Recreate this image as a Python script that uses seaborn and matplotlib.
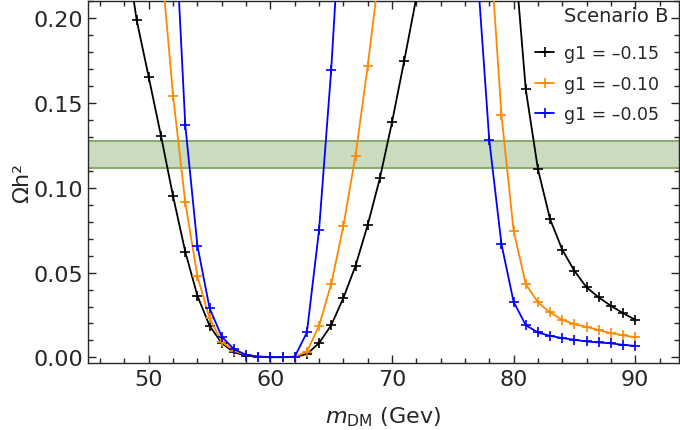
import matplotlib
matplotlib.use("Agg")
import matplotlib.pyplot as plt
from matplotlib.ticker import MultipleLocator
import numpy as np
import pandas as pd
import seaborn as sns

# relic density vs DM mass, three couplings, two branches each (either side of the resonance)
labels = ["g1 = \u20130.15", "g1 = \u20130.10", "g1 = \u20130.05"]
colors = ["black", "#ff8800", "#0000ff"]

black_left_x = list(range(48, 73))
black_left_y = [0.247, 0.199, 0.165, 0.1307, 0.0949, 0.0623, 0.0363, 0.0186, 0.0084, 0.003,
                0.0010, 0.0003, 0.0001, 0.0001, 0.0003, 0.002, 0.0084, 0.019, 0.035, 0.054,
                0.078, 0.1055, 0.1386, 0.1747, 0.212]
black_right_x = list(range(80, 91))
black_right_y = [0.245, 0.158, 0.111, 0.0815, 0.0635, 0.051, 0.0413, 0.0354, 0.0304, 0.0261, 0.0222]

orange_left_x = list(range(51, 70))
orange_left_y = [0.235, 0.154, 0.0914, 0.0478, 0.023, 0.0092, 0.0039, 0.0015, 0.0005, 0.0002,
                 0.0002, 0.0004, 0.0033, 0.0186, 0.0432, 0.0774, 0.119, 0.1716, 0.23]
orange_right_x = list(range(78, 91))
orange_right_y = [0.25, 0.143, 0.0747, 0.0432, 0.0324, 0.0265, 0.0222, 0.0196, 0.018, 0.0161,
                  0.0143, 0.0131, 0.0118]

blue_left_x = list(range(52, 67))
blue_left_y = [0.28, 0.137, 0.0658, 0.029, 0.0122, 0.0049, 0.0015, 0.0005, 0.0002, 0.0002,
               0.0004, 0.0147, 0.075, 0.1694, 0.29]
blue_right_x = list(range(77, 91))
blue_right_y = [0.23, 0.128, 0.0668, 0.0328, 0.019, 0.0147, 0.0127, 0.0114, 0.0104, 0.0094,
                0.0088, 0.0083, 0.0074, 0.0068]

# Planck band
band_lo, band_hi = 0.1115, 0.1277

rows = []
branches = [(labels[0], "L", black_left_x, black_left_y), (labels[0], "R", black_right_x, black_right_y),
            (labels[1], "L", orange_left_x, orange_left_y), (labels[1], "R", orange_right_x, orange_right_y),
            (labels[2], "L", blue_left_x, blue_left_y), (labels[2], "R", blue_right_x, blue_right_y)]
for lab, br, xs, ys in branches:
    for x, y in zip(xs, ys):
        rows.append({"m": x, "omega": y, "g1": lab, "branch": lab + br})
df = pd.DataFrame(rows)

sns.set_style("ticks")
plt.rcParams["font.family"] = ["DejaVu Sans"]

fig = plt.figure(figsize=(6.8, 4.31), dpi=100)
ax = fig.add_axes([0.1294, 0.1566, 0.8691, 0.8388])

ax.axhspan(band_lo, band_hi, facecolor="#cadbc0", edgecolor="none", zorder=1)
ax.axhline(band_lo, color="#8aad6e", lw=1.5, zorder=1)
ax.axhline(band_hi, color="#8aad6e", lw=1.5, zorder=1)

sns.lineplot(data=df, x="m", y="omega", hue="g1", units="branch", estimator=None,
             hue_order=labels, palette=colors, marker="+", markersize=6.5,
             markeredgewidth=1.2, linewidth=1.3, ax=ax, zorder=3)
for ln in ax.lines[2:]:
    ln.set_markeredgecolor(ln.get_color())

ax.set_xlim(45, 93.6)
ax.set_ylim(-0.003, 0.2101)
ax.xaxis.set_major_locator(MultipleLocator(10))
ax.xaxis.set_minor_locator(MultipleLocator(2))
ax.yaxis.set_major_locator(MultipleLocator(0.05))
ax.yaxis.set_minor_locator(MultipleLocator(0.01))
ax.yaxis.set_major_formatter(matplotlib.ticker.FormatStrFormatter("%.2f"))
ax.tick_params(which="both", direction="in", top=True, right=True, labelsize=16, width=1)
ax.tick_params(axis="x", pad=5)
ax.tick_params(which="major", length=6)
ax.tick_params(which="minor", length=3.5)
for s in ax.spines.values():
    s.set_linewidth(1)

ax.set_xlabel(r"$m_{\mathrm{DM}}$ (Gev)", fontsize=16, labelpad=11)
ax.set_ylabel("\u03a9h\u00b2", fontsize=16, labelpad=1)

ax.text(0.982, 0.985, "Scenario B", transform=ax.transAxes, ha="right", va="top", fontsize=14)
leg = ax.legend(loc="upper right", bbox_to_anchor=(0.966, 0.88), frameon=False, fontsize=12.5,
                handlelength=1.1, handletextpad=0.55, labelspacing=0.72, borderpad=0, borderaxespad=0)
for h in leg.legend_handles:
    h.set_markeredgecolor(h.get_color())

plt.savefig("out.png", dpi=100)
